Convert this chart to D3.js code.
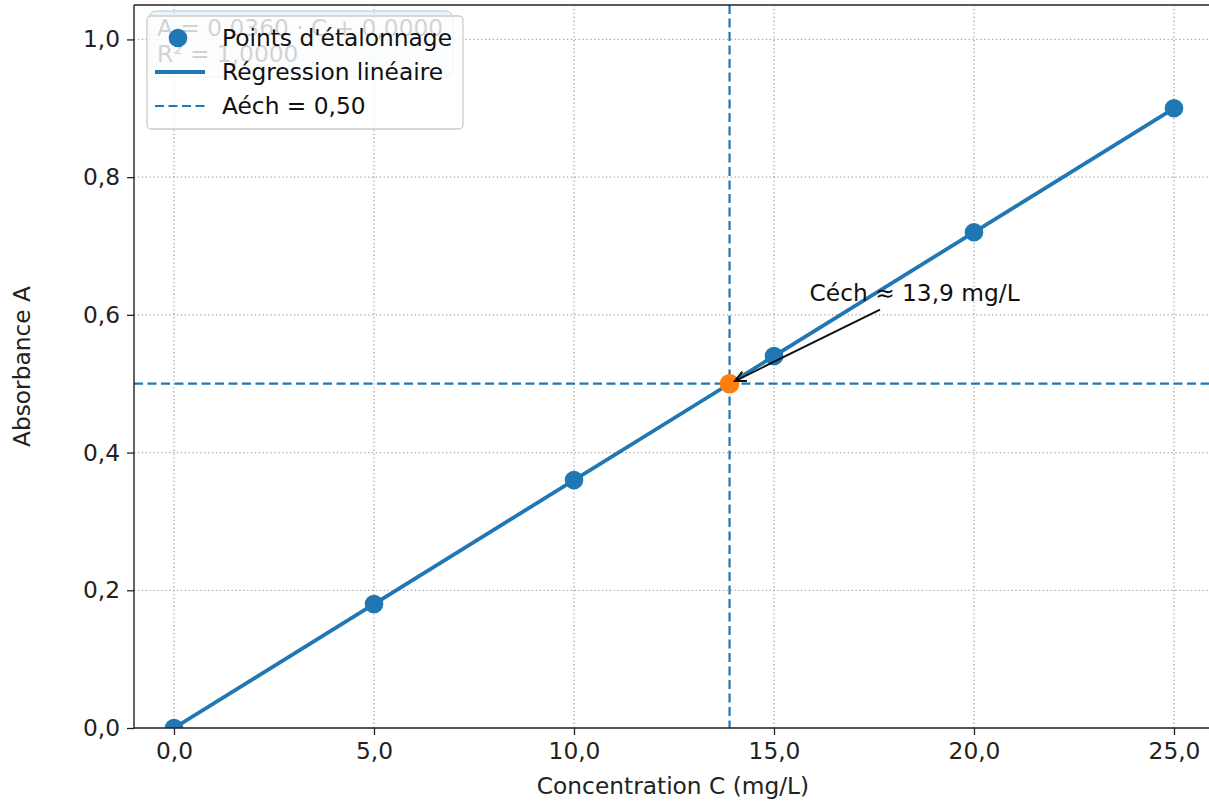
<!DOCTYPE html>
<html>
<head>
<meta charset="utf-8">
<script src="https://cdn.jsdelivr.net/npm/d3@7/dist/d3.min.js"></script>
<style>
  html, body { margin: 0; padding: 0; background: #fff; }
  svg { display: block; font-family: "DejaVu Sans", sans-serif; }
</style>
</head>
<body>
<svg id="chart" width="1209" height="801"></svg>
<script>
// ---- Data ----
const concentrations = [0, 5, 10, 15, 20, 25];
const absorbances = [0.00, 0.18, 0.36, 0.54, 0.72, 0.90];
const sampleAbsorbance = 0.50;
const xTickValues = [0, 5, 10, 15, 20, 25];
const yTickValues = [0, 0.2, 0.4, 0.6, 0.8, 1.0];
const legendLabels = ["Points d'étalonnage", "Régression linéaire", "Aéch = 0,50"];
const axisTitles = ["Concentration C (mg/L)", "Absorbance A"];

// ---- Regression (least squares from the data) ----
const n = concentrations.length;
const mx = d3.mean(concentrations), my = d3.mean(absorbances);
let sxy = 0, sxx = 0, syy = 0;
for (let i = 0; i < n; i++) {
  sxy += (concentrations[i] - mx) * (absorbances[i] - my);
  sxx += (concentrations[i] - mx) ** 2;
  syy += (absorbances[i] - my) ** 2;
}
const slope = sxy / sxx;
const intercept = my - slope * mx;
const r2 = (sxy * sxy) / (sxx * syy);
const cSample = (sampleAbsorbance - intercept) / slope;

const fr = (v, d) => v.toFixed(d).replace(".", ",");

// ---- Layout ----
const svg = d3.select("#chart");
const L = 134, R = 1214, T = 5, B = 728;
const x = d3.scaleLinear().domain([-1, 26]).range([L, R]);
const y = d3.scaleLinear().domain([0, 1.05]).range([B, T]);
const blue = "#1f77b4", orange = "#ff7f0e";
const FS = 23.3;

const defs = svg.append("defs");
defs.append("clipPath").attr("id", "plotclip")
  .append("rect").attr("x", L).attr("y", T).attr("width", R - L).attr("height", B - T);

// Grid
const grid = svg.append("g").attr("stroke", "#a8a8a8").attr("stroke-width", 1.3)
  .attr("stroke-dasharray", "1.3,2.6");
grid.selectAll(".gx").data(xTickValues).join("line")
  .attr("x1", d => x(d)).attr("x2", d => x(d)).attr("y1", T).attr("y2", B);
grid.selectAll(".gy").data(yTickValues).join("line")
  .attr("x1", L).attr("x2", R).attr("y1", d => y(d)).attr("y2", d => y(d));

// Axes
const xAxis = svg.append("g").attr("transform", `translate(0,${B})`)
  .call(d3.axisBottom(x).tickValues(xTickValues).tickFormat(d => fr(d, 1)).tickSize(7).tickPadding(7));
const yAxis = svg.append("g").attr("transform", `translate(${L},0)`)
  .call(d3.axisLeft(y).tickValues(yTickValues).tickFormat(d => fr(d, 1)).tickSize(7).tickPadding(7));
[xAxis, yAxis].forEach(g => {
  g.select(".domain").remove();
  g.selectAll(".tick line").attr("stroke", "#222").attr("stroke-width", 1.3);
  g.selectAll(".tick text").attr("fill", "#222").style("font-size", FS + "px")
    .style("font-family", "DejaVu Sans");
});

// Clip group for data
const plot = svg.append("g").attr("clip-path", "url(#plotclip)");

// Reference dashed lines
plot.append("line").attr("x1", L).attr("x2", R)
  .attr("y1", y(sampleAbsorbance)).attr("y2", y(sampleAbsorbance))
  .attr("stroke", blue).attr("stroke-width", 2.2).attr("stroke-dasharray", "9,4.5");
plot.append("line").attr("x1", x(cSample)).attr("x2", x(cSample))
  .attr("y1", T).attr("y2", B)
  .attr("stroke", blue).attr("stroke-width", 2.2).attr("stroke-dasharray", "9,4.5");

// Regression line
const xmin = d3.min(concentrations), xmax = d3.max(concentrations);
plot.append("path")
  .datum([xmin, xmax])
  .attr("d", d3.line().x(d => x(d)).y(d => y(slope * d + intercept)))
  .attr("fill", "none").attr("stroke", blue).attr("stroke-width", 3.8);

// Calibration points
plot.selectAll(".pt").data(concentrations).join("circle")
  .attr("cx", d => x(d)).attr("cy", (d, i) => y(absorbances[i]))
  .attr("r", 9.3).attr("fill", blue);

// Sample point
plot.append("circle").attr("cx", x(cSample)).attr("cy", y(sampleAbsorbance))
  .attr("r", 9.8).attr("fill", orange);

// Spines (left, top, bottom, right off-canvas)
const sp = svg.append("g").attr("stroke", "#222").attr("stroke-width", 1.4).attr("fill", "none");
sp.append("line").attr("x1", L).attr("x2", L).attr("y1", T).attr("y2", B);
sp.append("line").attr("x1", L).attr("x2", R).attr("y1", T).attr("y2", T);
sp.append("line").attr("x1", L).attr("x2", R).attr("y1", B).attr("y2", B);
sp.append("line").attr("x1", R).attr("x2", R).attr("y1", T).attr("y2", B);

// Annotation
const ann = svg.append("text")
  .attr("x", x(cSample + 2)).attr("y", y(sampleAbsorbance + 0.12))
  .attr("fill", "#111").style("font-size", FS + "px")
  .text(`Céch ≈ ${fr(cSample, 1)} mg/L`);
const bb = ann.node().getBBox();
const cx0 = bb.x + bb.width / 2, cy0 = bb.y + bb.height / 2;
const tx = x(cSample), ty = y(sampleAbsorbance);
const dx = tx - cx0, dy = ty - cy0;
let t = (bb.y + bb.height - cy0) / dy;
const tx2 = (bb.x - cx0) / dx;
if (dx < 0 && tx2 > 0 && tx2 < t) t = tx2;
let sx = cx0 + dx * t, sy = cy0 + dy * t;
const len = Math.hypot(tx - sx, ty - sy);
const ux = (tx - sx) / len, uy = (ty - sy) / len;
sx += ux * 8; sy += uy * 8;
const ex = tx - ux * 6, ey = ty - uy * 6;
svg.append("line").attr("x1", sx).attr("y1", sy).attr("x2", ex).attr("y2", ey)
  .attr("stroke", "#111").attr("stroke-width", 2);
const ang = Math.atan2(uy, ux), ha = 0.45, hl = 12;
const head = [
  [ex - hl * Math.cos(ang - ha), ey - hl * Math.sin(ang - ha)],
  [ex, ey],
  [ex - hl * Math.cos(ang + ha), ey - hl * Math.sin(ang + ha)]
];
svg.append("path").attr("d", d3.line()(head)).attr("fill", "none")
  .attr("stroke", "#111").attr("stroke-width", 2).attr("stroke-linejoin", "miter");

// Equation text box (behind legend)
const eq = svg.append("g");
eq.append("rect").attr("x", 149).attr("y", 11).attr("width", 304).attr("height", 66)
  .attr("rx", 7).attr("fill", "#cfe8ee").attr("fill-opacity", 0.45)
  .attr("stroke", "#9ab").attr("stroke-opacity", 0.6);
eq.append("text").attr("x", 157).attr("y", 36).attr("fill", "#222").style("font-size", FS + "px")
  .text(`A = ${fr(slope, 4)} · C + ${fr(Math.abs(intercept), 4)}`);
eq.append("text").attr("x", 157).attr("y", 62).attr("fill", "#222").style("font-size", FS + "px")
  .text(`R² = ${fr(r2, 4)}`);

// Legend
const lg = svg.append("g");
lg.append("rect").attr("x", 147).attr("y", 16).attr("width", 316).attr("height", 113)
  .attr("rx", 4).attr("fill", "#fff").attr("fill-opacity", 0.8)
  .attr("stroke", "#cccccc").attr("stroke-width", 1.3);
const ly = [38, 72, 106];
lg.append("circle").attr("cx", 178).attr("cy", ly[0]).attr("r", 9.3).attr("fill", blue);
lg.append("line").attr("x1", 155).attr("x2", 205).attr("y1", ly[1]).attr("y2", ly[1])
  .attr("stroke", blue).attr("stroke-width", 3.8);
lg.append("line").attr("x1", 155).attr("x2", 205).attr("y1", ly[2]).attr("y2", ly[2])
  .attr("stroke", blue).attr("stroke-width", 2.2).attr("stroke-dasharray", "9,4.5");
lg.selectAll(".lt").data(legendLabels).join("text")
  .attr("x", 222).attr("y", (d, i) => ly[i]).attr("dy", "0.35em")
  .attr("fill", "#111").style("font-size", FS + "px").text(d => d);

// Axis titles
svg.append("text").attr("x", (L + 1212) / 2).attr("y", 794).attr("text-anchor", "middle")
  .attr("fill", "#222").style("font-size", FS + "px").text(axisTitles[0]);
svg.append("text").attr("transform", `translate(30,${(T + B) / 2}) rotate(-90)`)
  .attr("text-anchor", "middle").attr("fill", "#222").style("font-size", FS + "px")
  .text(axisTitles[1]);
</script>
</body>
</html>
